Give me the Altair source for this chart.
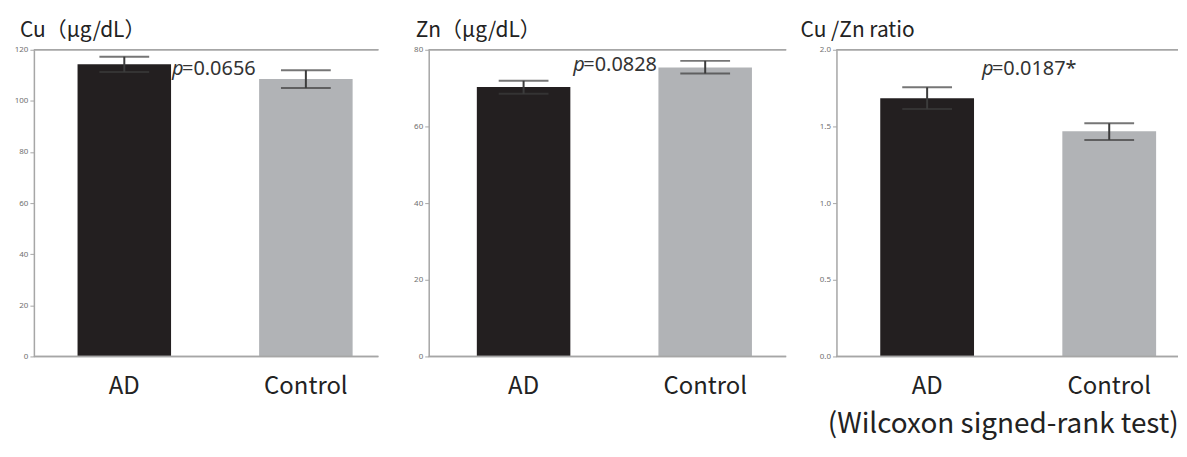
import altair as alt
import pandas as pd

groups = ["AD", "Control"]

cu_mean = [114.3, 108.6]
cu_lo = [111.3, 105.0]
cu_hi = [117.3, 112.0]

zn_mean = [70.3, 75.4]
zn_lo = [68.5, 73.8]
zn_hi = [71.9, 77.1]

ratio_mean = [1.684, 1.468]
ratio_lo = [1.613, 1.412]
ratio_hi = [1.755, 1.520]

titles = ["Cu（μg/dL）", "Zn（μg/dL）", "Cu /Zn ratio"]
p_values = ["=0.0656", "=0.0828", "=0.0187*"]
p_label_y = [112.6, 76.1, 1.877]
y_max = [120, 80, 2.0]
tick_step = [10, 10, 0.25]
label_step = [20, 10, 0.5]
footer = "(Wilcoxon signed-rank test)"

FONT = "Noto Sans CJK JP"
BLACK = "#231f20"
GRAY = "#b1b3b6"
ERR = "#3c3c3c"
AXIS = "#a6a6a6"


def panel(i, means, los, his, width, pad_outer, align, title_dx, fmt, p_dx):
    df = pd.DataFrame({"g": groups, "mean": means, "lo": los, "hi": his})
    ann = pd.DataFrame({"g": ["AD"], "y": [p_label_y[i]], "t": [p_values[i]], "p": ["p"]})
    xscale = alt.Scale(domain=groups, paddingInner=0.485, paddingOuter=pad_outer, align=align)
    n = int(round(y_max[i] / tick_step[i]))
    vals = [round(k * tick_step[i], 4) for k in range(n + 1)]
    lstep = label_step[i]
    yscale = alt.Scale(domain=[0, y_max[i]], nice=False, zero=True)
    yaxis = alt.Axis(
        values=vals,
        labelExpr=f"abs(datum.value / {lstep} - round(datum.value / {lstep})) < 0.001 ? format(datum.value, '{fmt}') : ''",
        title=None, grid=False, domainColor=AXIS, domainWidth=1.5, tickColor=AXIS,
        tickSize=4, tickWidth=1, labelFontSize=8, labelColor="#6f6f6f", labelFont="Noto Sans",
        labelPadding=2, labelOverlap=False,
    )
    xaxis = alt.Axis(
        title=None, domain=False, ticks=False, labelAngle=0, labelFontSize=24,
        labelFont=FONT, labelColor="#222", labelPadding=18,
    )
    base = alt.Chart(df)
    bars = base.mark_bar().encode(
        x=alt.X("g:N", scale=xscale, axis=xaxis, sort=groups),
        y=alt.Y("mean:Q", scale=yscale, axis=yaxis),
        color=alt.Color("g:N", scale=alt.Scale(domain=groups, range=[BLACK, GRAY]), legend=None),
    )
    err = base.mark_rule(color=ERR, strokeWidth=2).encode(
        x=alt.X("g:N", sort=groups), y="lo:Q", y2="hi:Q"
    )
    cap_hi = base.mark_tick(color=ERR, size=50, thickness=2).encode(
        x=alt.X("g:N", sort=groups), y="hi:Q"
    )
    cap_lo = base.mark_tick(color=ERR, size=50, thickness=2).encode(
        x=alt.X("g:N", sort=groups), y="lo:Q"
    )
    a = alt.Chart(ann)
    ptxt = a.mark_text(align="left", baseline="middle", fontSize=20, font="Noto Sans",
                       fontStyle="italic", color="#333", dx=p_dx).encode(
        x=alt.X("g:N", bandPosition=1, sort=groups), y="y:Q", text="p:N"
    )
    vtxt = a.mark_text(align="left", baseline="middle", fontSize=20, font="Noto Sans",
                       color="#333", dx=p_dx + 10).encode(
        x=alt.X("g:N", bandPosition=1, sort=groups), y="y:Q", text="t:N"
    )
    top = base.mark_rule(color=AXIS, strokeWidth=1.5).encode(
        x=alt.value(0), x2=alt.value("width"), y=alt.value(0)
    )
    bottom = base.mark_rule(color=AXIS, strokeWidth=1.5).encode(
        x=alt.value(0), x2=alt.value("width"), y=alt.value("height")
    )
    return alt.layer(bars, err, cap_hi, cap_lo, top, bottom, ptxt, vtxt).properties(
        width=width, height=308,
        title=alt.TitleParams(titles[i], anchor="start", frame="group", dx=title_dx,
                              fontSize=21, font=FONT, fontWeight="normal", color="#222",
                              offset=5),
    )


p1 = panel(0, cu_mean, cu_lo, cu_hi, 346, 35 / 183, 44 / 70, -14, "d", 1)
p2 = panel(1, zn_mean, zn_lo, zn_hi, 359, 41.5 / 183, 48.5 / 83, -13, "d", 3)
p3 = panel(2, ratio_mean, ratio_lo, ratio_hi, 343, 33 / 183, 44 / 66, -36, ".1f", 8)

chart = alt.hconcat(p1, p2, p3, spacing=50.5, bounds="flush").resolve_scale(
    x="independent", y="independent", color="independent"
).properties(
    title=alt.TitleParams(footer, orient="bottom", anchor="end", fontSize=28, font=FONT,
                          fontWeight="normal", color="#222", offset=13, dx=0),
    padding={"left": 6, "top": 11, "right": 0, "bottom": 5},
).configure_view(stroke=None)

chart.save("out.html", embed_options={"renderer": "svg", "actions": False})
